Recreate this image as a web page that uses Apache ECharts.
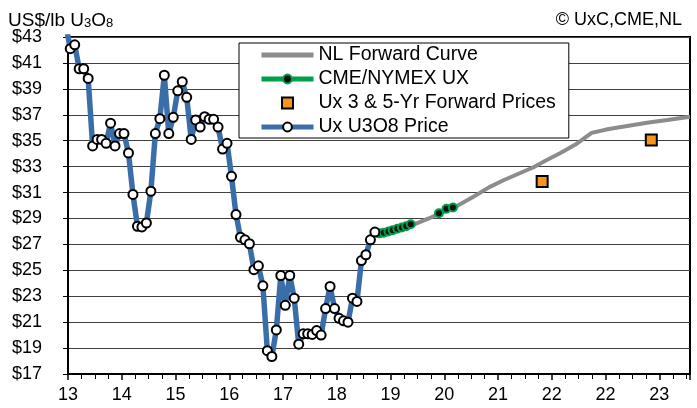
<!DOCTYPE html>
<html>
<head>
<meta charset="utf-8">
<script src="https://cdn.jsdelivr.net/npm/echarts@6/dist/echarts.min.js"></script>
<style>
  html, body { margin: 0; padding: 0; background: #fff; }
  #main { width: 697px; height: 408px; }
</style>
</head>
<body>
<div id="main"></div>
<script>
// x axis: years after Jan 2013, labels as printed on the chart
var xTickLabels = ['13', '14', '15', '16', '17', '18', '19', '20', '21', '22', '22', '23']

// Ux U3O8 month-end price, Dec 2012 .. Sep 2018
var uxPrice = [44.0, 42.1, 42.4, 40.55, 40.55, 39.8, 34.6, 35.1, 35.1, 34.8, 36.35, 34.6,
  35.55, 35.55, 34.05, 30.85, 28.4, 28.35, 28.65, 31.1, 35.55, 36.7, 40.05, 35.55,
  36.8, 38.85, 39.55, 38.35, 35.1, 36.6, 36.05, 36.85, 36.65, 36.65, 36.05, 34.35,
  34.8, 32.25, 29.3, 27.55, 27.35, 27.05, 25.05, 25.35, 23.8, 18.8, 18.35, 20.4,
  24.6, 22.3, 24.6, 22.85, 19.3, 20.1, 20.1, 20.05, 20.35, 20.0, 22.05, 23.75,
  22.05, 21.3, 21.1, 21.0, 22.85, 22.6, 25.75, 26.2, 27.35, 27.95]

// CME/NYMEX UX futures
var cmeYears = [5.79, 5.875, 5.96, 6.04, 6.125, 6.21, 6.29, 6.375, 6.90, 7.04, 7.16]
var cmePrice = [27.85, 27.9, 28.0, 28.1, 28.2, 28.3, 28.4, 28.55, 29.4, 29.75, 29.85]

// NL forward curve
var nlYears = [5.75, 6.0, 6.43, 6.71, 6.90, 7.21, 7.55, 7.83, 8.10, 8.38, 8.66, 8.88,
  9.16, 9.44, 9.74, 10.06, 10.43, 10.80, 11.15, 11.57]
var nlPrice = [27.9, 28.05, 28.52, 29.0, 29.35, 29.9, 30.7, 31.4, 31.95, 32.45, 32.95, 33.45,
  34.05, 34.7, 35.6, 35.9, 36.15, 36.4, 36.6, 36.85]

// Ux 3 & 5-yr forward prices
var fwdYears = [8.82, 10.85]
var fwdPrice = [31.85, 35.05]

var font = 'Liberation Sans, Arial, sans-serif'

// monthly points sit mid-month
var uxData = uxPrice.map(function (v, i) { return [(i - 0.5) / 12, v] })
var cmeData = []
cmeYears.forEach(function (x, i) {
  // gap in the futures strip
  if (i > 0 && x - cmeYears[i - 1] > 0.3) cmeData.push([x - 0.2, '-'])
  cmeData.push([x, cmePrice[i]])
})
var nlData = nlYears.map(function (x, i) { return [x, nlPrice[i]] })
var fwdData = fwdYears.map(function (x, i) { return [x, fwdPrice[i]] })

var myChart = echarts.init(document.getElementById('main'))

var option = {
  animation: false,
  backgroundColor: '#fff',
  textStyle: { fontFamily: font },
  title: [{
    text: 'US$/lb U{s|3}O{s|8}',
    left: 3,
    top: 6,
    textStyle: {
      fontFamily: font, fontSize: 19, fontWeight: 'normal', color: '#000',
      rich: { s: { fontFamily: font, fontSize: 13, color: '#000', verticalAlign: 'bottom', padding: [6, 0, 0, 0] } }
    }
  }, {
    text: '© UxC,CME,NL',
    right: 10,
    top: 6,
    textStyle: { fontFamily: font, fontSize: 18, fontWeight: 'normal', color: '#000' }
  }],
  legend: {
    orient: 'vertical',
    left: 239,
    top: 43,
    padding: [2, 13, 1, 20],
    itemWidth: 52,
    itemHeight: 11,
    itemGap: 4,
    backgroundColor: '#fff',
    borderColor: '#000',
    borderWidth: 1,
    borderRadius: 0,
    lineStyle: { width: 5 },
    textStyle: { fontFamily: font, fontSize: 19.5, color: '#000', lineHeight: 20 },
    data: [
      { name: 'NL Forward Curve', icon: 'path://M0,0H52V5H0Z' },
      { name: 'CME/NYMEX UX' },
      { name: 'Ux 3 & 5-Yr Forward Prices', icon: 'path://M0,0H10V10H0Z' },
      { name: 'Ux U3O8 Price' }
    ]
  },
  grid: {
    left: 68, right: 7, top: 37, bottom: 34,
    show: true, borderColor: '#000', borderWidth: 2
  },
  xAxis: {
    type: 'value',
    min: 0,
    max: 11.57,
    interval: 1,
    axisLine: { lineStyle: { color: '#000', width: 2 } },
    axisTick: { show: true, length: 6, lineStyle: { color: '#000', width: 1.5 } },
    minorTick: { show: true, splitNumber: 4, length: 5, lineStyle: { color: '#000', width: 1 } },
    splitLine: { show: false },
    axisLabel: {
      margin: 12, fontFamily: font, fontSize: 18, color: '#000',
      formatter: function (v) {
        var r = Math.round(v)
        return Math.abs(v - r) < 1e-6 && xTickLabels[r] ? xTickLabels[r] : ''
      }
    }
  },
  yAxis: {
    type: 'value',
    min: 17,
    max: 43,
    interval: 2,
    axisLine: { show: true, lineStyle: { color: '#000', width: 2 } },
    axisTick: { show: true, length: 5, lineStyle: { color: '#000', width: 1 } },
    splitLine: { lineStyle: { color: '#404040', width: 1 } },
    axisLabel: {
      margin: 26, fontFamily: font, fontSize: 18, color: '#000',
      formatter: function (v) { return '$' + v }
    }
  },
  series: [{
    name: 'NL Forward Curve',
    type: 'line',
    data: nlData,
    symbol: 'none',
    lineStyle: { color: '#8c8c8c', width: 4 },
    itemStyle: { color: '#8c8c8c' },
    z: 2
  }, {
    name: 'CME/NYMEX UX',
    type: 'line',
    data: cmeData,
    symbol: 'circle',
    symbolSize: 8,
    showAllSymbol: true,
    lineStyle: { color: '#00a04b', width: 4 },
    itemStyle: { color: '#111', borderColor: '#00a04b', borderWidth: 2 },
    z: 3
  }, {
    name: 'Ux 3 & 5-Yr Forward Prices',
    type: 'scatter',
    data: fwdData,
    symbol: 'rect',
    symbolSize: 11,
    itemStyle: { color: '#f7941d', borderColor: '#000', borderWidth: 2, opacity: 1 },
    z: 4
  }, {
    name: 'Ux U3O8 Price',
    type: 'line',
    data: uxData,
    symbol: 'circle',
    symbolSize: 9,
    showAllSymbol: true,
    clip: true,
    lineStyle: { color: '#3a6ea8', width: 5.5 },
    itemStyle: { color: '#fff', borderColor: '#000', borderWidth: 2 },
    z: 5
  }]
}

myChart.setOption(option)

window.onresize = function () {
  myChart.resize()
}
</script>
</body>
</html>
